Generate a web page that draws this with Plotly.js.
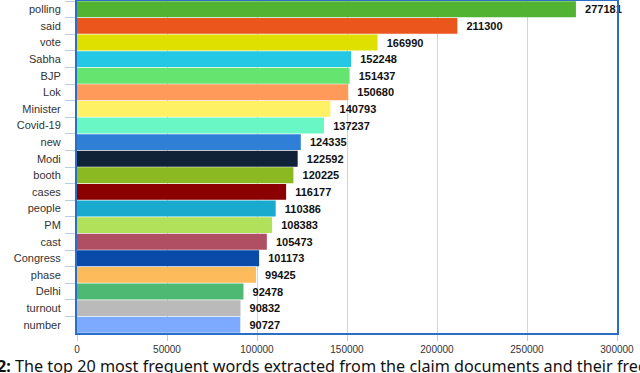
<!DOCTYPE html>
<html>
<head>
<meta charset="utf-8">
<script src="https://cdn.plot.ly/plotly-3.0.1.min.js"></script>
<style>
  html, body { margin: 0; padding: 0; background: #fff; }
  #chart { width: 640px; height: 373px; }
</style>
</head>
<body>
<div id="chart"></div>
<script>
// top 20 words and their frequencies, top to bottom
const words = ["polling", "said", "vote", "Sabha", "BJP", "Lok", "Minister", "Covid-19",
    "new", "Modi", "booth", "cases", "people", "PM", "cast", "Congress", "phase",
    "Delhi", "turnout", "number"];
const counts = [277181, 211300, 166990, 152248, 151437, 150680, 140793, 137237,
    124335, 122592, 120225, 116177, 110386, 108383, 105473, 101173, 99425,
    92478, 90832, 90727];
const barColors = ["#52b332", "#ea561c", "#e0e000", "#24c8e4", "#65e470", "#ff9a5b",
    "#fff064", "#6af7c6", "#2f7fd6", "#102238", "#8ab922", "#8b0000", "#19aacd",
    "#b1e05a", "#b04e64", "#0a4aa8", "#fdbb5b", "#4db972", "#bababa", "#7daaff"];
const xTicks = [0, 50000, 100000, 150000, 200000, 250000, 300000];

const captionText = "<b>2:</b> The top 20 most frequent words extracted from the claim documents and their freq";

const trace = {
    type: "bar",
    orientation: "h",
    y: words,
    x: counts,
    marker: { color: barColors, line: { width: 0 } },
    text: counts.map(c => "  " + c),
    textposition: "outside",
    cliponaxis: false,
    textfont: { family: "Liberation Sans, Arial, sans-serif", size: 11, color: "#111", weight: "bold" },
    hoverinfo: "none"
};

const layout = {
    width: 640,
    height: 373,
    margin: { l: 77, r: 23, t: 1, b: 40 },
    paper_bgcolor: "#fff",
    plot_bgcolor: "#fff",
    showlegend: false,
    bargap: 0.04,
    font: { family: "Liberation Sans, Arial, sans-serif", color: "#333" },
    xaxis: {
        range: [0, 300000],
        tickvals: xTicks,
        ticktext: xTicks.map(String),
        tickfont: { size: 10, color: "#333" },
        showgrid: true,
        gridcolor: "#d4d4d4",
        gridwidth: 1,
        zeroline: false,
        showline: true,
        mirror: true,
        linecolor: "#2a6fc6",
        linewidth: 2,
        ticks: "outside",
        ticklen: 6,
        tickcolor: "#b8cfe6",
        fixedrange: true
    },
    yaxis: {
        autorange: "reversed",
        tickfont: { size: 11, color: "#333" },
        showline: true,
        mirror: true,
        linecolor: "#2a6fc6",
        linewidth: 2,
        ticks: "outside",
        tickson: "boundaries",
        ticklen: 10,
        tickcolor: "#b8cfe6",
        ticklabelstandoff: 12,
        showgrid: false,
        fixedrange: true
    },
    annotations: [{
        xref: "paper", yref: "paper",
        x: -77 / 540 - 0.01, y: -0.06,
        xanchor: "left", yanchor: "top",
        showarrow: false,
        text: captionText,
        font: { family: "Noto Sans, Open Sans, sans-serif", size: 16.2, color: "#111" }
    }]
};

Plotly.newPlot("chart", [trace], layout, { displayModeBar: false, staticPlot: true });
</script>
</body>
</html>
